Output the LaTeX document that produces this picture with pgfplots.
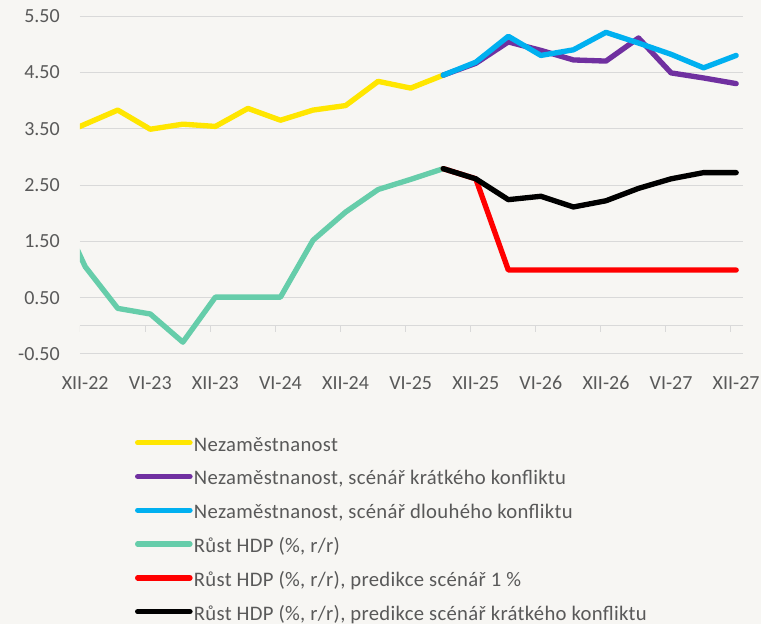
\documentclass[border=0pt]{standalone}
\usepackage{fontspec}
\setmainfont{Carlito}
\newfontfamily\legfont[LetterSpace=1.5]{Carlito}
\usepackage{pgfplots}
\usepackage{pgfplotstable}
\pgfplotsset{compat=1.18}
\definecolor{bg}{HTML}{F7F6F3}
\definecolor{gridc}{HTML}{D9D9D9}
\definecolor{txt}{HTML}{595959}
\definecolor{cyel}{HTML}{FFE600}
\definecolor{cpur}{HTML}{7030A0}
\definecolor{cblu}{HTML}{00B0F0}
\definecolor{cgrn}{HTML}{66CDAA}
\definecolor{cred}{HTML}{FF0000}

\pgfplotstableread{
x y
-1 3.33
0 3.58
1 3.83
2 3.49
3 3.58
4 3.54
5 3.86
6 3.65
7 3.83
8 3.91
9 4.34
10 4.22
11 4.45
}\unemp
\pgfplotstableread{
x y
11 4.45
12 4.66
13 5.04
14 4.89
15 4.72
16 4.70
17 5.11
18 4.49
19 4.40
20 4.30
}\unshort
\pgfplotstableread{
x y
11 4.45
12 4.68
13 5.14
14 4.80
15 4.90
16 5.21
17 5.02
18 4.82
19 4.58
20 4.80
}\unlong
\pgfplotstableread{
x y
-1 2.30
0 1.05
1 0.31
2 0.21
3 -0.29
4 0.51
5 0.51
6 0.51
7 1.52
8 2.02
9 2.42
10 2.60
11 2.79
}\gdp
\pgfplotstableread{
x y
11 2.79
12 2.61
13 0.99
14 0.99
15 0.99
16 0.99
17 0.99
18 0.99
19 0.99
20 0.99
}\gdpone
\pgfplotstableread{
x y
11 2.79
12 2.61
13 2.24
14 2.30
15 2.11
16 2.22
17 2.44
18 2.61
19 2.72
20 2.72
}\gdpshort

\begin{document}
\begin{tikzpicture}
\fill[bg] (-60pt,-202.5pt) rectangle (510.75pt,265.5pt);
\useasboundingbox (-60pt,-202.5pt) rectangle (510.75pt,265.5pt);
\begin{axis}[
  at={(0,0)}, anchor=south west,
  scale only axis, width=497.25pt, height=253.5pt,
  xmin=-0.16, xmax=20.21, ymin=-0.5, ymax=5.5,
  axis line style={draw=none},
  ytick={-0.5,0.5,1.5,2.5,3.5,4.5,5.5},
  yticklabels={-0.50,0.50,1.50,2.50,3.50,4.50,5.50},
  xtick={0,2,4,6,8,10,12,14,16,18,20},
  xticklabels={XII-22,VI-23,XII-23,VI-24,XII-24,VI-25,XII-25,VI-26,XII-26,VI-27,XII-27},
  major tick length=0pt,
  ymajorgrids, grid style={gridc, line width=0.75pt},
  tick label style={font=\fontsize{15}{18}\selectfont, text=txt},
  yticklabel style={anchor=east, inner sep=0pt, xshift=-15pt},
  xticklabel style={anchor=north, inner sep=0pt, yshift=-16.5pt},
  every axis plot/.append style={line width=4pt, line join=round, line cap=round},
  legend style={at={(axis description cs:0.083,-0.242)}, anchor=north west,
    draw=none, fill=none, inner sep=0pt, outer sep=0pt,
    font=\legfont\fontsize{15.5}{18}\selectfont, text=txt,
    row sep=10.35pt, column sep=1pt,
    nodes={inner sep=0pt, text height=11.5pt, text depth=3.5pt}},
  legend cell align=left,
  legend image code/.code={\draw[#1] (0pt,2.35pt) -- (39.2pt,2.35pt);},
]
\draw[gridc, line width=0.75pt] (axis cs:-0.16,0) -- (axis cs:20.21,0);
\pgfplotsinvokeforeach{-0.16,1.84,3.84,5.84,7.84,9.84,11.84,13.84,15.84,17.84,19.84}{
  \draw[gridc, line width=0.75pt] (axis cs:#1,0) -- ++(0pt,-4.5pt);
}
\addplot[cyel] table {\unemp};
\addlegendentry{Nezaměstnanost}
\addplot[cpur] table {\unshort};
\addlegendentry{Nezaměstnanost, scénář krátkého konfliktu}
\addplot[cblu] table {\unlong};
\addlegendentry{Nezaměstnanost, scénář dlouhého konfliktu}
\addplot[cgrn] table {\gdp};
\addlegendentry{Růst HDP (\%, r/r)}
\addplot[cred] table {\gdpone};
\addlegendentry{Růst HDP (\%, r/r), predikce scénář 1 \%}
\addplot[black] table {\gdpshort};
\addlegendentry{Růst HDP (\%, r/r), predikce scénář krátkého konfliktu}
\end{axis}
\end{tikzpicture}
\end{document}
